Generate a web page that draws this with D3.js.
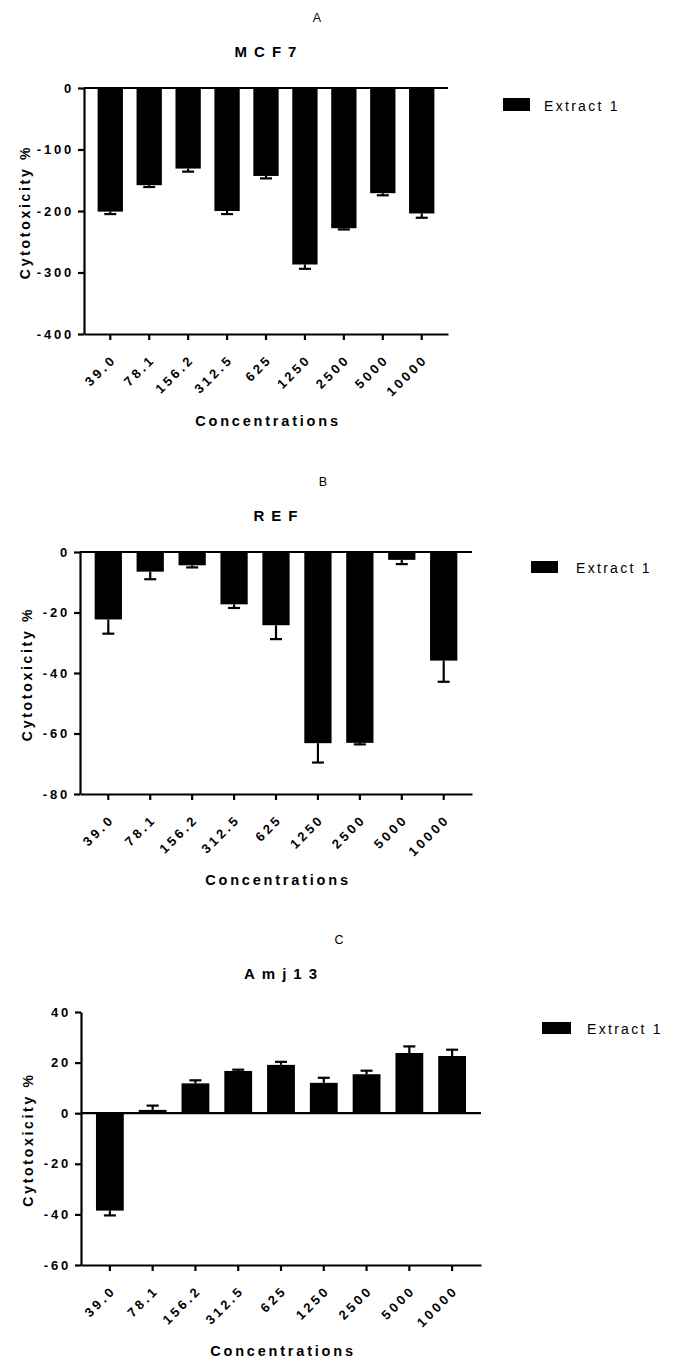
<!DOCTYPE html>
<html>
<head>
<meta charset="utf-8">
<script src="https://cdn.jsdelivr.net/npm/d3@7"></script>
<style>
  body { margin: 0; background: #fff; }
  svg { display: block; font-family: "Liberation Sans", Arial, sans-serif; }
</style>
</head>
<body>
<div id="chart"></div>
<script>
// concentrations on the x axis (same for all three panels)
var concentrations = ["39.0", "78.1", "156.2", "312.5", "625", "1250", "2500", "5000", "10000"];

// A - MCF7
var mcf7Mean = [-201, -158, -131, -200, -143, -287, -228, -171, -204];
var mcf7Err = [4, 3, 5, 5, 4, 7, 2, 3.5, 7];
var mcf7Ticks = [0, -100, -200, -300, -400];

// B - REF
var refMean = [-22.3, -6.5, -4.4, -17.3, -24.2, -63.2, -63.1, -2.6, -35.9];
var refErr = [4.7, 2.5, 0.7, 1.2, 4.6, 6.4, 0.5, 1.4, 7.0];
var refTicks = [0, -20, -40, -60, -80];

// C - Amj13
var amjMean = [-38.5, 1.3, 11.8, 16.7, 19.1, 12.0, 15.4, 23.8, 22.6];
var amjErr = [1.9, 1.7, 1.2, 0.5, 1.2, 2.0, 1.4, 2.6, 2.5];
var amjTicks = [40, 20, 0, -20, -40, -60];

var seriesName = "Extract 1";

var svg = d3.select("#chart")
  .append("svg")
  .attr("width", 680)
  .attr("height", 1363);

// layout of each panel
var panels = [
  { letter: "A", title: "MCF7", mean: mcf7Mean, err: mcf7Err, ticks: mcf7Ticks,
    domain: [-400, 0], yRange: [334, 88], xRange: [84, 448],
    titleY: 57, letterX: 317, letterY: 22, labelX: 30, xTitleY: 426,
    legend: { x: 503, y: 98, w: 27, h: 13, tx: 544 } },
  { letter: "B", title: "REF", mean: refMean, err: refErr, ticks: refTicks,
    domain: [-80, 0], yRange: [794, 552], xRange: [80, 472],
    titleY: 521, letterX: 323, letterY: 486, labelX: 32, xTitleY: 885,
    legend: { x: 531, y: 561, w: 27, h: 12, tx: 576 } },
  { letter: "C", title: "Amj13", mean: amjMean, err: amjErr, ticks: amjTicks,
    domain: [-60, 40], yRange: [1265, 1012], xRange: [81, 481],
    titleY: 979, letterX: 339, letterY: 944, labelX: 33, xTitleY: 1356,
    legend: { x: 542, y: 1022, w: 29, h: 12, tx: 587 } }
];

panels.forEach(drawPanel);

function drawPanel(p) {
  var g = svg.append("g");

  var x = d3.scaleBand()
    .domain(concentrations)
    .range(p.xRange)
    .padding(0.35);

  var y = d3.scaleLinear()
    .domain(p.domain)
    .range(p.yRange);

  var rows = concentrations.map(function (c, i) {
    return { conc: c, mean: p.mean[i], err: p.err[i] };
  });

  // bars
  g.selectAll("rect.bar")
    .data(rows)
    .enter().append("rect")
    .attr("class", "bar")
    .attr("x", function (d) { return x(d.conc); })
    .attr("width", x.bandwidth())
    .attr("y", function (d) { return y(Math.max(0, d.mean)); })
    .attr("height", function (d) { return Math.abs(y(d.mean) - y(0)); })
    .attr("fill", "#000");

  // one-sided error bars, pointing away from zero
  var errEnd = function (d) { return d.mean < 0 ? d.mean - d.err : d.mean + d.err; };
  var cx = function (d) { return x(d.conc) + x.bandwidth() / 2; };

  g.selectAll("line.err")
    .data(rows)
    .enter().append("line")
    .attr("class", "err")
    .attr("x1", cx).attr("x2", cx)
    .attr("y1", function (d) { return y(d.mean); })
    .attr("y2", function (d) { return y(errEnd(d)); })
    .attr("stroke", "#000").attr("stroke-width", 2.2);

  g.selectAll("line.cap")
    .data(rows)
    .enter().append("line")
    .attr("class", "cap")
    .attr("x1", function (d) { return cx(d) - 6; })
    .attr("x2", function (d) { return cx(d) + 6; })
    .attr("y1", function (d) { return y(errEnd(d)); })
    .attr("y2", function (d) { return y(errEnd(d)); })
    .attr("stroke", "#000").attr("stroke-width", 2.2);

  // zero line
  g.append("line")
    .attr("x1", p.xRange[0]).attr("x2", p.xRange[1])
    .attr("y1", y(0)).attr("y2", y(0))
    .attr("stroke", "#000").attr("stroke-width", 2.2);

  // y axis
  var yAxis = g.append("g")
    .attr("transform", "translate(" + p.xRange[0] + ",0)")
    .call(d3.axisLeft(y).tickValues(p.ticks).tickSizeInner(6).tickSizeOuter(0)
      .tickFormat(function (d) { return String(d); }));
  yAxis.selectAll("text")
    .attr("x", -10)
    .style("font-size", "13px")
    .style("font-weight", "bold")
    .style("letter-spacing", "2.8px")
    .attr("fill", "#000");

  // x axis at the bottom of the plot
  var xAxis = g.append("g")
    .attr("transform", "translate(0," + y(p.domain[0]) + ")")
    .call(d3.axisBottom(x).tickSizeInner(6).tickSizeOuter(0));
  xAxis.selectAll("text")
    .attr("x", 0).attr("y", 0).attr("dy", 0)
    .attr("text-anchor", "end")
    .attr("transform", "translate(7,26) rotate(-45)")
    .style("font-size", "13px")
    .style("font-weight", "bold")
    .style("letter-spacing", "3.2px")
    .attr("fill", "#000");

  [yAxis, xAxis].forEach(function (a) {
    a.select(".domain").attr("stroke-width", 2.2);
    a.selectAll(".tick line").attr("stroke-width", 2.2);
  });

  var midX = (p.xRange[0] + p.xRange[1]) / 2;

  // panel letter
  g.append("text")
    .attr("x", p.letterX)
    .attr("y", p.letterY)
    .attr("text-anchor", "middle")
    .style("font-size", "12.5px")
    .text(p.letter);

  // title
  g.append("text")
    .attr("x", midX + 3)
    .attr("y", p.titleY)
    .attr("text-anchor", "middle")
    .style("font-size", "15px")
    .style("font-weight", "bold")
    .style("letter-spacing", "7px")
    .text(p.title);

  // x axis title
  g.append("text")
    .attr("x", midX + 2)
    .attr("y", p.xTitleY)
    .attr("text-anchor", "middle")
    .style("font-size", "14.5px")
    .style("font-weight", "bold")
    .style("letter-spacing", "2.8px")
    .text("Concentrations");

  // y axis title
  g.append("text")
    .attr("transform", "translate(" + p.labelX + "," + ((p.yRange[0] + p.yRange[1]) / 2 + 1) + ") rotate(-90)")
    .attr("text-anchor", "middle")
    .style("font-size", "14px")
    .style("font-weight", "bold")
    .style("letter-spacing", "2.7px")
    .text("Cytotoxicity %");

  // legend
  g.append("rect")
    .attr("x", p.legend.x)
    .attr("y", p.legend.y)
    .attr("width", p.legend.w)
    .attr("height", p.legend.h)
    .attr("fill", "#000");
  g.append("text")
    .attr("x", p.legend.tx)
    .attr("y", p.legend.y + p.legend.h)
    .style("font-size", "14px")
    .style("letter-spacing", "2.3px")
    .text(seriesName);
}
</script>
</body>
</html>
